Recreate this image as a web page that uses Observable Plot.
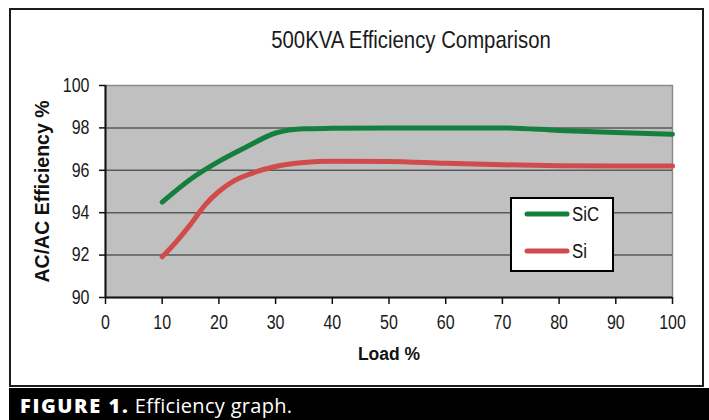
<!DOCTYPE html>
<html><head><meta charset="utf-8">
<script src="https://cdn.jsdelivr.net/npm/d3@7"></script>
<script src="https://cdn.jsdelivr.net/npm/@observablehq/plot@0.6"></script>
<style>
body{margin:0;background:#fff;}
#wrap{position:relative;width:709px;height:420px;overflow:hidden;background:#fff;}
#frame{position:absolute;left:9px;top:8px;width:695px;height:379px;border:2.5px solid #1c1c1c;box-sizing:border-box;pointer-events:none;}
#caption{position:absolute;left:9px;top:388px;width:700px;height:32px;background:#000;color:#fff;font-family:'Open Sans',Lato,sans-serif;font-size:20px;line-height:32px;padding:2px 0 0 11px;box-sizing:border-box;white-space:nowrap;letter-spacing:0.3px;}
#caption b{font-weight:800;letter-spacing:1.6px;font-size:20px;}
#legend{position:absolute;left:510px;top:197px;}
#chart{position:absolute;left:0;top:0;}
</style></head>
<body>
<div id="wrap">
  <div id="chart"></div>
  <div id="frame"></div>
  <div id="legend"></div>
  <div id="caption"></div>
</div>
<script>
const sicLoads = [10, 15, 20, 25, 30, 35, 40, 50, 60, 70, 80, 90, 100];
const sicEff = [94.5, 95.58, 96.42, 97.12, 97.76, 97.96, 97.98, 98.0, 98.0, 98.0, 97.88, 97.78, 97.7];
const siLoads = [10, 12.5, 15, 17.5, 20, 22.5, 25, 30, 35, 40, 50, 60, 70, 80, 90, 100];
const siEff = [91.92, 92.64, 93.45, 94.35, 95.0, 95.48, 95.78, 96.18, 96.37, 96.43, 96.42, 96.33, 96.26, 96.22, 96.2, 96.2];
const seriesNames = ["SiC", "Si"];
const seriesColors = ["#15803d", "#d24b4b"];
const yTicks = [90, 92, 94, 96, 98, 100];
const xTicks = [0, 10, 20, 30, 40, 50, 60, 70, 80, 90, 100];
const titleText = "500KVA Efficiency Comparison";
const xLabel = "Load %";
const yLabel = "AC/AC Efficiency %";
const captionBold = "FIGURE 1.";
const captionText = " Efficiency graph.";

const FONT = "'Liberation Sans',Arial,sans-serif";
const seriesLoads = [sicLoads, siLoads];
const seriesValues = [sicEff, siEff];
const data = seriesNames.flatMap((s, k) => seriesLoads[k].map((l, i) => ({load: l, eff: seriesValues[k][i], series: s})));

const chart = Plot.plot({
  width: 709, height: 388,
  marginTop: 85, marginBottom: 91, marginLeft: 105, marginRight: 37,
  style: {fontFamily: FONT, fontSize: "19px", color: "#1a1a1a", background: "transparent"},
  x: {domain: [0, 100]},
  y: {domain: [90, 100]},
  color: {domain: seriesNames, range: seriesColors},
  marks: [
    Plot.frame({fill: "#c0c0c0", stroke: "#8c8c8c", strokeWidth: 1.5}),
    Plot.gridY(yTicks.slice(1, -1), {stroke: "#5a5a5a", strokeOpacity: 1, strokeWidth: 1.5}),
    Plot.axisY(yTicks, {tickSize: 6, tickPadding: 10, stroke: "#111", strokeWidth: 1.5, label: null, fontSize: 19.5, className: "sq"}),
    Plot.axisX(xTicks, {tickSize: 7, tickPadding: 11, stroke: "#111", strokeWidth: 1.5, label: null, fontSize: 19.5, className: "sq"}),
    Plot.ruleY([90], {stroke: "#111", strokeWidth: 2}),
    Plot.ruleX([0], {stroke: "#111", strokeWidth: 2}),
    Plot.line(data, {x: "load", y: "eff", z: "series", stroke: "series", strokeWidth: 5, curve: "monotone-x", strokeLinecap: "round"}),
    Plot.text([titleText], {frameAnchor: "top", dy: -45, dx: 22, fontSize: 24.8, lineAnchor: "middle", fill: "#1a1a1a", className: "sq"}),
    Plot.text([xLabel], {frameAnchor: "bottom", dy: 57, fontSize: 17.5, fontWeight: "bold", lineAnchor: "middle", fill: "#111"}),
    Plot.text([yLabel], {frameAnchor: "left", dx: -57, rotate: -90, textAnchor: "middle", fontSize: 19.5, fontWeight: "bold", lineAnchor: "bottom", fill: "#111"})
  ]
});
document.getElementById("chart").appendChild(chart);

// narrow the condensed-looking texts, as in the reference
function squash(root, f) {
  root.querySelectorAll("text").forEach(t => {
    const L = t.getComputedTextLength();
    if (L > 0) { t.setAttribute("textLength", (L * f).toFixed(2)); t.setAttribute("lengthAdjust", "spacingAndGlyphs"); }
  });
}
chart.querySelectorAll(".sq").forEach(g => squash(g, 0.82));

// legend
const lg = d3.select("#legend").append("svg").attr("width", 104).attr("height", 75)
  .style("font-family", FONT).style("font-size", "20.5px");
lg.append("rect").attr("x", 1).attr("y", 1).attr("width", 102).attr("height", 73)
  .attr("fill", "#fff").attr("stroke", "#000").attr("stroke-width", 2);
seriesNames.forEach((s, i) => {
  const yy = [17, 54][i];
  lg.append("line").attr("x1", 17).attr("x2", 57).attr("y1", yy).attr("y2", yy)
    .attr("stroke", seriesColors[i]).attr("stroke-width", 5).attr("stroke-linecap", "round");
  lg.append("text").attr("x", 62).attr("y", yy + 7).attr("fill", "#111").text(s);
});
squash(lg.node(), 0.82);

// caption
const cap = document.getElementById("caption");
const b = document.createElement("b"); b.textContent = captionBold;
cap.appendChild(b);
cap.appendChild(document.createTextNode(captionText));
</script>
</body></html>
